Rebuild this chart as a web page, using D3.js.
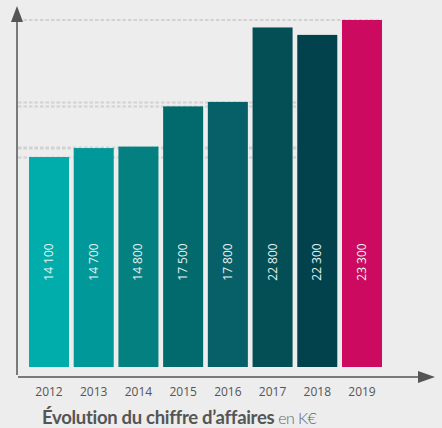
<!DOCTYPE html>
<html><head><meta charset="utf-8">
<script src="https://cdn.jsdelivr.net/npm/d3@7"></script>
<style>
html,body{margin:0;padding:0;background:#ededed;}
svg{display:block;}
</style></head>
<body>
<script>
const years = ["2012","2013","2014","2015","2016","2017","2018","2019"];
const values = [14100, 14700, 14800, 17500, 17800, 22800, 22300, 23300];
const valueLabels = ["14 100","14 700","14 800","17 500","17 800","22 800","22 300","23 300"];
const barColors = ["#01adaa","#009898","#058080","#02696c","#075f68","#034f55","#01424d","#cc0a60"];
const gridShort = [14100, 14700, 14800, 17500, 17800];
const gridLong = [23300];
const titleBold = "Évolution du chiffre d’affaires";
const titleLight = "en K€";

const W = 442, H = 428;
const svg = d3.select("body").append("svg").attr("width", W).attr("height", H);
svg.append("rect").attr("width", W).attr("height", H).attr("fill", "#ededed");

const x = d3.scaleBand().domain(years).range([26.65, 384.35]).paddingInner(0.105).paddingOuter(0.0525);
const y = d3.scaleLinear().domain([0, 23300]).range([367, 20]);

// grid lines
const grid = svg.append("g").attr("stroke", "#d2d2d2").attr("stroke-width", 1.8).attr("stroke-dasharray", "3.5,2");
grid.selectAll("line.s").data(gridShort).join("line").attr("class","s")
  .attr("x1", 18).attr("x2", x("2018") - 1)
  .attr("y1", d => Math.round(y(d)) + 0.5).attr("y2", d => Math.round(y(d)) + 0.5);
grid.selectAll("line.l").data(gridLong).join("line").attr("class","l")
  .attr("x1", 18).attr("x2", x("2019") + x.bandwidth())
  .attr("y1", d => Math.round(y(d))).attr("y2", d => Math.round(y(d)));

// bars
const data = years.map((yr, i) => ({yr, v: values[i], lab: valueLabels[i], c: barColors[i]}));
svg.append("g").selectAll("rect").data(data).join("rect")
  .attr("x", d => x(d.yr)).attr("width", x.bandwidth())
  .attr("y", d => y(d.v)).attr("height", d => y(0) - y(d.v))
  .attr("fill", d => d.c);

// value labels
svg.append("g").selectAll("text").data(data).join("text")
  .attr("transform", d => `translate(${x(d.yr) + x.bandwidth()/2 + 4},262) rotate(-90)`)
  .attr("text-anchor", "middle")
  .attr("font-family", "'Open Sans', sans-serif").attr("font-size", 12)
  .attr("fill", "#e6f2f2")
  .text(d => d.lab);

// axes
svg.append("line").attr("x1", 17).attr("x2", 17).attr("y1", 20).attr("y2", 375)
  .attr("stroke", "#7a7a7a").attr("stroke-width", 2);
svg.append("path").attr("d", "M17,6 L23,22 L11,22 Z").attr("fill", "#555");
svg.append("line").attr("x1", 18).attr("x2", 420).attr("y1", 377).attr("y2", 377)
  .attr("stroke", "#7a7a7a").attr("stroke-width", 2);
svg.append("path").attr("d", "M435,377 L418,371 L418,383 Z").attr("fill", "#555");

// year labels
const xAxis = d3.axisBottom(x).tickSize(0).tickPadding(0);
const gx = svg.append("g").attr("transform", "translate(0,387)").call(xAxis);
gx.select(".domain").remove();
gx.selectAll("text").attr("font-family", "'Open Sans', sans-serif").attr("font-size", 12).attr("fill", "#555");

// title
const t = svg.append("text").attr("x", 42).attr("y", 424)
  .attr("font-family", "Lato, sans-serif").attr("font-size", 18.5).attr("fill", "#555");
t.append("tspan").attr("font-weight", "bold").attr("letter-spacing", -0.3).text(titleBold);
t.append("tspan").attr("dx", 4).attr("font-weight", 300).attr("fill", "#666").attr("font-size", 16).attr("letter-spacing", -0.6).text(titleLight);
</script>
</body></html>
